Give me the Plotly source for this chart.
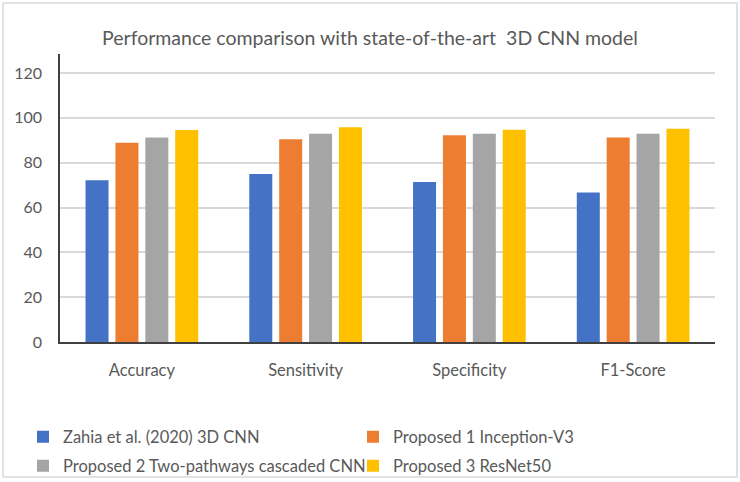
import plotly.graph_objects as go

categories = ["Accuracy", "Sensitivity", "Specificity", "F1-Score"]
series_names = [
    "Zahia et al. (2020) 3D CNN",
    "Proposed 1 Inception-V3",
    "Proposed 2 Two-pathways cascaded CNN",
    "Proposed 3 ResNet50",
]
zahia = [72.2, 75.0, 71.4, 66.7]
inception = [88.9, 90.5, 92.3, 91.2]
two_pathways = [91.2, 92.9, 92.9, 92.9]
resnet50 = [94.6, 95.8, 94.7, 95.2]
colors = ["#4472C4", "#ED7D31", "#A5A5A5", "#FFC000"]
y_ticks = [0, 20, 40, 60, 80, 100, 120]

fig = go.Figure()
legend_ids = ["legend", "legend", "legend2", "legend2"]
for name, vals, col, lg in zip(series_names, [zahia, inception, two_pathways, resnet50], colors, legend_ids):
    fig.add_trace(go.Bar(x=categories, y=vals, name=name, legend=lg,
                         marker=dict(color=col, line=dict(width=0))))

font_family = "Lato, Carlito, 'Liberation Sans', sans-serif"
PL, PR, PT, PB = 60, 715, 54, 342
W, H = 740, 482
pw, ph = PR - PL, PB - PT

def px_x(x):
    return (x - PL) / pw

def px_y(y):
    return (PB - y) / ph

legend_common = dict(orientation="h", xanchor="left", yanchor="middle",
                     entrywidth=285, entrywidthmode="pixels", traceorder="normal",
                     font=dict(size=16.5, color="#595959"), itemwidth=30,
                     bgcolor="rgba(0,0,0,0)")

fig.update_layout(
    width=W, height=H,
    margin=dict(l=PL, r=W - PR, t=PT, b=H - PB, autoexpand=False),
    paper_bgcolor="white", plot_bgcolor="white",
    barmode="group", bargap=0.27, bargroupgap=0.23,
    font=dict(family=font_family, size=16, color="#595959"),
    title=dict(text="Performance comparison with state-of-the-art  3D CNN model",
               x=0.5, xanchor="center", y=1 - 38 / H, yanchor="middle",
               font=dict(size=19.5, color="#595959")),
    xaxis=dict(showline=True, linecolor="#404040", linewidth=1.5, showgrid=False,
               tickfont=dict(size=16.5, color="#595959"), ticklabelstandoff=12),
    yaxis=dict(range=[0, 128.5], tickvals=y_ticks, showline=True, linecolor="#404040",
               linewidth=1.5, showgrid=True, gridcolor="#D9D9D9", gridwidth=1.5,
               zeroline=False, tickfont=dict(size=16, color="#595959"), ticklabelstandoff=13),
    legend=dict(x=px_x(23), y=px_y(437), **legend_common),
    legend2=dict(x=px_x(23), y=px_y(466), **legend_common),
    shapes=[dict(type="rect", xref="paper", yref="paper",
                 x0=px_x(3), x1=px_x(737), y0=px_y(477), y1=px_y(3),
                 line=dict(color="#D9D9D9", width=1.5), fillcolor="rgba(0,0,0,0)")],
)
fig.write_html("out.html", config={"displayModeBar": False},
               post_script="document.body.style.margin='0';")
